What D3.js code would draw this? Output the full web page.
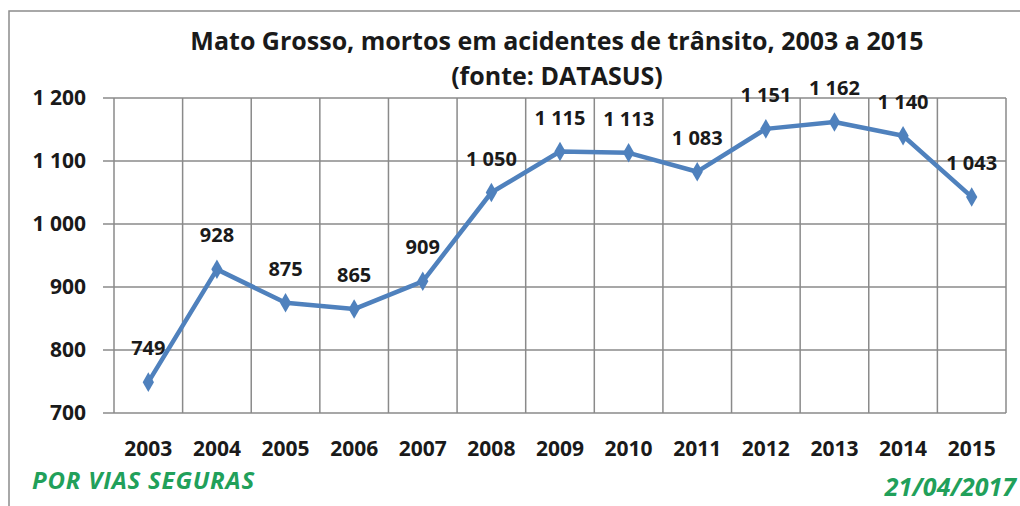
<!DOCTYPE html>
<html lang="pt">
<head>
<meta charset="UTF-8">
<title>Mato Grosso, mortos em acidentes de trânsito</title>
<script src="https://d3js.org/d3.v7.min.js"></script>
<style>
  body { margin: 0; background: #fff; }
  text { font-family: "Open Sans", "Noto Sans", sans-serif; font-weight: bold; fill: #1a1a1a; }
</style>
</head>
<body>
<script>
// data
const years = ["2003","2004","2005","2006","2007","2008","2009","2010","2011","2012","2013","2014","2015"];
const deaths = [749, 928, 875, 865, 909, 1050, 1115, 1113, 1083, 1151, 1162, 1140, 1043];
const yTicks = [700, 800, 900, 1000, 1100, 1200];

const W = 1020, H = 506;
const margin = {top: 98, right: 14, bottom: 93, left: 114};

const svg = d3.select("body").append("svg")
    .attr("width", W)
    .attr("height", H);

// outer frame (cut off at right and bottom like the screenshot)
svg.append("rect")
    .attr("x", 9).attr("y", 11)
    .attr("width", W + 20).attr("height", H + 20)
    .attr("fill", "none").attr("stroke", "#8c8c8c").attr("stroke-width", 1.5);

const x = d3.scaleBand()
    .domain(years)
    .range([margin.left, W - margin.right]);

const y = d3.scaleLinear()
    .domain([700, 1200])
    .range([H - margin.bottom, margin.top]);

const fmt = v => d3.format(",")(v).replace(",", " ");
const cx = d => x(d) + x.bandwidth() / 2;

// grid
const grid = svg.append("g").attr("stroke", "#8a8a8a").attr("stroke-width", 1.5);
grid.selectAll(".h").data(yTicks).join("line")
    .attr("x1", margin.left - 11).attr("x2", W - margin.right)
    .attr("y1", d => y(d)).attr("y2", d => y(d));
grid.selectAll(".v").data(years.concat(["end"])).join("line")
    .attr("x1", (d, i) => margin.left + i * x.bandwidth())
    .attr("x2", (d, i) => margin.left + i * x.bandwidth())
    .attr("y1", y(1200)).attr("y2", y(700));

// y axis labels
svg.append("g").selectAll("text").data(yTicks).join("text")
    .attr("x", 86).attr("y", d => y(d))
    .attr("dy", "0.35em")
    .attr("text-anchor", "end")
    .style("font-size", "21px")
    .text(fmt);

// x axis labels
svg.append("g").selectAll("text").data(years).join("text")
    .attr("x", cx)
    .attr("y", 456)
    .attr("text-anchor", "middle")
    .style("font-size", "21px")
    .text(d => d);

// line
const pts = years.map((d, i) => ({year: d, value: deaths[i]}));
const line = d3.line()
    .x(d => cx(d.year))
    .y(d => y(d.value));

svg.append("path")
    .datum(pts)
    .attr("d", line)
    .attr("fill", "none")
    .attr("stroke", "#4f81bd")
    .attr("stroke-width", 4.5)
    .attr("stroke-linejoin", "round");

svg.append("g").selectAll("path").data(pts).join("path")
    .attr("d", d3.symbol(d3.symbolDiamond, 110))
    .attr("transform", d => `translate(${cx(d.year)},${y(d.value)})`)
    .attr("fill", "#4f81bd");

// data labels
svg.append("g").selectAll("text").data(pts).join("text")
    .attr("x", d => cx(d.year))
    .attr("y", d => y(d.value) - 27)
    .attr("text-anchor", "middle")
    .style("font-size", "20px")
    .text(d => fmt(d.value));

// title
svg.append("text")
    .attr("x", 557).attr("y", 50)
    .attr("text-anchor", "middle")
    .style("font-size", "25px")
    .text("Mato Grosso, mortos em acidentes de trânsito, 2003 a 2015");
svg.append("text")
    .attr("x", 557).attr("y", 85)
    .attr("text-anchor", "middle")
    .style("font-size", "25px")
    .text("(fonte: DATASUS)");

// footer
svg.append("text")
    .attr("x", 32).attr("y", 489)
    .style("font-size", "24px").style("font-style", "italic")
    .style("letter-spacing", "0.8px")
    .style("fill", "#21a05a")
    .text("POR VIAS SEGURAS");
svg.append("text")
    .attr("x", 1016).attr("y", 496)
    .attr("text-anchor", "end")
    .style("font-size", "25px").style("font-style", "italic")
    .style("fill", "#21a05a")
    .text("21/04/2017");
</script>
</body>
</html>
